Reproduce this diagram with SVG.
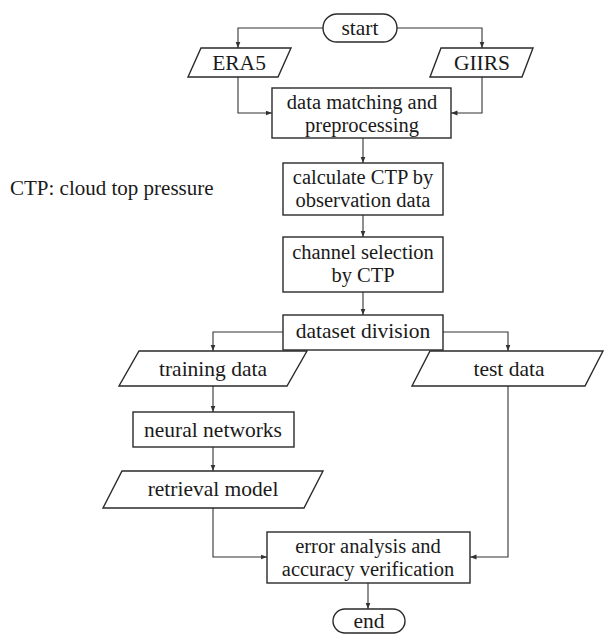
<svg xmlns="http://www.w3.org/2000/svg" width="604" height="635" viewBox="0 0 604 635">
<style>
.shape{fill:#fff;stroke:#2a2a2a;stroke-width:1.4}
.conn{fill:none;stroke:#333;stroke-width:1.1}
text{font-family:"Liberation Serif","Times New Roman",serif;font-size:21.5px;fill:#1a1a1a;text-anchor:middle}
.two{font-size:20.5px}
.note{text-anchor:start;font-size:21px}
</style>
<defs>
<marker id="arr" markerUnits="userSpaceOnUse" markerWidth="7" markerHeight="6" refX="6.5" refY="2.5" orient="auto">
<path d="M0,0 L6.5,2.5 L0,5 z" fill="#333"/>
</marker>
</defs>
<rect width="604" height="635" fill="#fff"/>
<g id="connectors">
<path class="conn" d="M323,28 H238 V48" marker-end="url(#arr)"/>
<path class="conn" d="M397,28 H482 V48" marker-end="url(#arr)"/>
<path class="conn" d="M238,77 V113 H272" marker-end="url(#arr)"/>
<path class="conn" d="M482,77 V113 H451" marker-end="url(#arr)"/>
<path class="conn" d="M363,138 V163" marker-end="url(#arr)"/>
<path class="conn" d="M363,215 V237" marker-end="url(#arr)"/>
<path class="conn" d="M363,292 V315" marker-end="url(#arr)"/>
<path class="conn" d="M283,332 H213 V351" marker-end="url(#arr)"/>
<path class="conn" d="M443,332 H508 V351" marker-end="url(#arr)"/>
<path class="conn" d="M213,386 V412" marker-end="url(#arr)"/>
<path class="conn" d="M213,447 V471" marker-end="url(#arr)"/>
<path class="conn" d="M213,508 V557 H267" marker-end="url(#arr)"/>
<path class="conn" d="M508,386 V557 H470" marker-end="url(#arr)"/>
<path class="conn" d="M368,583 V609" marker-end="url(#arr)"/>
</g>
<g id="start">
<rect class="shape" x="323" y="14" width="74" height="28" rx="14"/>
<text x="360" y="35">start</text>
</g>
<g id="era5">
<polygon class="shape" points="201,48 291,48 278,77 188,77"/>
<text x="239" y="70">ERA5</text>
</g>
<g id="giirs">
<polygon class="shape" points="441,48 533,48 522,77 430,77"/>
<text x="482" y="70">GIIRS</text>
</g>
<g id="matching">
<rect class="shape" x="272" y="88" width="179" height="50"/>
<text class="two" x="362" y="109">data matching and</text>
<text class="two" x="362" y="132">preprocessing</text>
</g>
<g id="note">
<text class="note" x="10" y="195">CTP: cloud top pressure</text>
</g>
<g id="calc">
<rect class="shape" x="283" y="163" width="160" height="52"/>
<text class="two" x="363" y="184">calculate CTP by</text>
<text class="two" x="363" y="207">observation data</text>
</g>
<g id="channel">
<rect class="shape" x="283" y="237" width="160" height="55"/>
<text class="two" x="363" y="259">channel selection</text>
<text class="two" x="363" y="282">by CTP</text>
</g>
<g id="division">
<rect class="shape" x="283" y="315" width="160" height="35"/>
<text x="363" y="338">dataset division</text>
</g>
<g id="training">
<polygon class="shape" points="139,351 307,351 287,386 119,386"/>
<text x="213" y="376">training data</text>
</g>
<g id="test">
<polygon class="shape" points="430,351 603,351 585,386 412,386"/>
<text x="509" y="376">test data</text>
</g>
<g id="neural">
<rect class="shape" x="133" y="412" width="161" height="35"/>
<text x="213" y="437">neural networks</text>
</g>
<g id="retrieval">
<polygon class="shape" points="122,471 323,471 304,508 103,508"/>
<text x="213" y="496">retrieval model</text>
</g>
<g id="error">
<rect class="shape" x="267" y="532" width="203" height="51"/>
<text class="two" x="368" y="553">error analysis and</text>
<text class="two" x="368" y="576">accuracy verification</text>
</g>
<g id="end">
<rect class="shape" x="333" y="609" width="72" height="24" rx="12"/>
<text x="369" y="628">end</text>
</g>
</svg>
